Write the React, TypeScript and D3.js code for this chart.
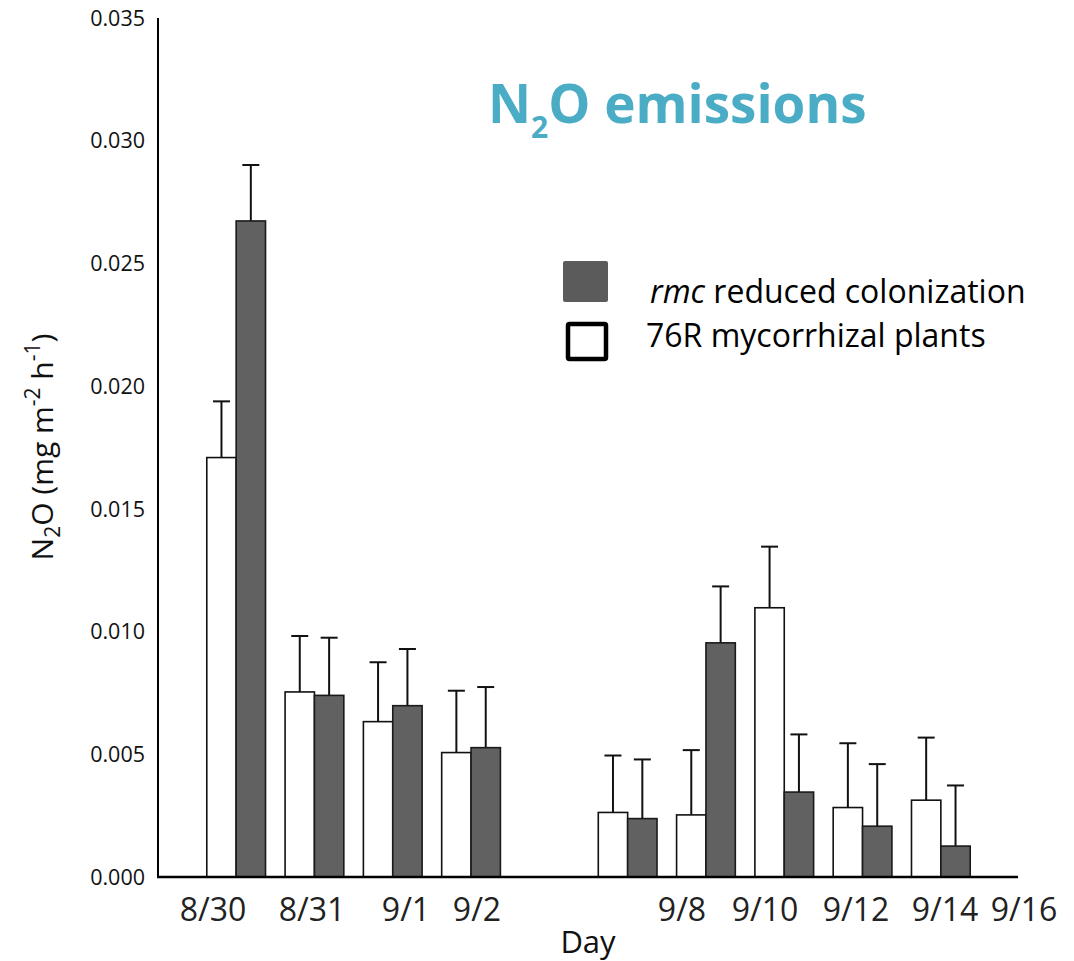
import * as d3 from "d3";
import { useEffect, useRef } from "react";

// sampling days (one bar pair per day); a blank slot sits between 9/2 and 9/8
const days = ["8/30", "8/31", "9/1", "9/2", "9/8", "9/10", "9/12", "9/14", "9/16"];
const slots = ["8/30", "8/31", "9/1", "9/2", "gap", "9/8", "9/10", "9/12", "9/14", "9/16"];

// 76R mycorrhizal plants (white)
const myc = [0.01709, 0.00754, 0.00633, 0.00507, 0.00263, 0.00253, 0.01097, 0.00283, 0.00313];
const mycErr = [0.00229, 0.00228, 0.00242, 0.00252, 0.00232, 0.00264, 0.00249, 0.00262, 0.00255];

// rmc reduced colonization (grey)
const rmc = [0.02673, 0.0074, 0.00698, 0.00527, 0.00238, 0.00954, 0.00346, 0.00207, 0.00126];
const rmcErr = [0.00228, 0.00235, 0.00231, 0.00247, 0.00241, 0.0023, 0.00235, 0.00253, 0.00247];

const yTicks = [0, 0.005, 0.01, 0.015, 0.02, 0.025, 0.03, 0.035];

const FONT = "'Open Sans', 'DejaVu Sans', sans-serif";

export default function N2OEmissionsChart() {
  const ref = useRef<SVGSVGElement>(null);

  useEffect(() => {
    if (!ref.current) return;
    const el = ref.current;
    d3.select(el).selectAll("*").remove();
    const svg = d3.select(el);

    const W = 1074;
    const H = 961;
    const axisX = 158;
    const axisRight = 1018;

    const y = d3.scaleLinear().domain([0, 0.035]).range([877, 18]);
    const x = d3.scaleBand().domain(slots).range([197, 980]).paddingInner(0.25).paddingOuter(0.125);
    const xs = d3.scaleBand().domain(["myc", "rmc"]).range([0, x.bandwidth()]);

    svg.attr("viewBox", `0 0 ${W} ${H}`);

    // y tick labels (no tick marks in the original)
    svg
      .append("g")
      .selectAll("text")
      .data(yTicks)
      .join("text")
      .attr("x", 145)
      .attr("y", d => y(d))
      .attr("dy", "0.36em")
      .attr("text-anchor", "end")
      .attr("font-family", FONT)
      .attr("font-size", 21.5)
      .attr("fill", "#111")
      .text(d => d3.format(".3f")(d));

    // bars
    const rows = days.map((d, i) => ({ day: d, myc: myc[i], mycErr: mycErr[i], rmc: rmc[i], rmcErr: rmcErr[i] }));
    const groups = svg
      .append("g")
      .selectAll("g")
      .data(rows)
      .join("g")
      .attr("transform", d => `translate(${x(d.day)},0)`);

    const series = [
      { key: "myc", fill: "#ffffff", stroke: "#111" },
      { key: "rmc", fill: "#616161", stroke: "#1a1a1a" },
    ];

    series.forEach(s => {
      const val = (d: any) => d[s.key] as number;
      const err = (d: any) => d[s.key + "Err"] as number;
      const cx = (xs(s.key) as number) + xs.bandwidth() / 2;

      groups
        .append("line")
        .attr("x1", cx)
        .attr("x2", cx)
        .attr("y1", d => y(val(d)))
        .attr("y2", d => y(val(d) + err(d)))
        .attr("stroke", "#111")
        .attr("stroke-width", 2);
      groups
        .append("line")
        .attr("x1", cx - 8.5)
        .attr("x2", cx + 8.5)
        .attr("y1", d => y(val(d) + err(d)))
        .attr("y2", d => y(val(d) + err(d)))
        .attr("stroke", "#111")
        .attr("stroke-width", 2);

      groups
        .append("rect")
        .attr("x", xs(s.key) as number)
        .attr("width", xs.bandwidth())
        .attr("y", d => y(val(d)))
        .attr("height", d => y(0) - y(val(d)))
        .attr("fill", s.fill)
        .attr("stroke", s.stroke)
        .attr("stroke-width", 1.6);
    });

    // axes lines
    svg.append("line").attr("x1", axisX).attr("x2", axisX).attr("y1", y(0.035)).attr("y2", y(0)).attr("stroke", "#000").attr("stroke-width", 2);
    svg.append("line").attr("x1", axisX - 1).attr("x2", axisRight).attr("y1", y(0)).attr("y2", y(0)).attr("stroke", "#000").attr("stroke-width", 2.5);

    // day labels, placed where the original slide put them
    const labelX = [213, 312, 406, 477, 682, 765, 856, 945, 1024];
    svg
      .append("g")
      .selectAll("text")
      .data(days)
      .join("text")
      .attr("x", (_, i) => labelX[i])
      .attr("y", 921)
      .attr("text-anchor", "middle")
      .attr("font-family", FONT)
      .attr("font-size", 32)
      .attr("fill", "#222")
      .text(d => d);

    svg
      .append("text")
      .attr("x", 588)
      .attr("y", 953)
      .attr("text-anchor", "middle")
      .attr("font-family", FONT)
      .attr("font-size", 31)
      .attr("fill", "#111")
      .text("Day");

    // y axis title
    const yt = svg
      .append("text")
      .attr("transform", "translate(53,447) rotate(-90)")
      .attr("text-anchor", "middle")
      .attr("font-family", FONT)
      .attr("font-size", 30)
      .attr("fill", "#111");
    yt.append("tspan").text("N");
    yt.append("tspan").attr("font-size", 21).attr("dy", 7).text("2");
    yt.append("tspan").attr("dy", -7).text("O (mg m");
    yt.append("tspan").attr("font-size", 21).attr("dy", -13).text("-2");
    yt.append("tspan").attr("dy", 13).text(" h");
    yt.append("tspan").attr("font-size", 21).attr("dy", -13).text("-1");
    yt.append("tspan").attr("dy", 13).text(")");

    // title
    const title = svg
      .append("text")
      .attr("x", 488)
      .attr("y", 123)
      .attr("font-family", FONT)
      .attr("font-weight", 700)
      .attr("font-size", 53)
      .attr("fill", "#4bacc6");
    title.append("tspan").text("N");
    title.append("tspan").attr("font-size", 30).attr("dy", 15).text("2");
    title.append("tspan").attr("dy", -15).text("O emissions");

    // legend
    svg.append("rect").attr("x", 563).attr("y", 261).attr("width", 45).attr("height", 41).attr("rx", 2).attr("fill", "#5b5b5b");
    svg
      .append("rect")
      .attr("x", 568)
      .attr("y", 324)
      .attr("width", 38)
      .attr("height", 35)
      .attr("rx", 1.5)
      .attr("fill", "#fff")
      .attr("stroke", "#000")
      .attr("stroke-width", 4.5);

    const l1 = svg.append("text").attr("x", 650).attr("y", 303).attr("font-family", FONT).attr("font-size", 32).attr("fill", "#000");
    l1.append("tspan").attr("font-style", "italic").text("rmc");
    l1.append("tspan").text(" reduced colonization");

    svg.append("text").attr("x", 646).attr("y", 347).attr("font-family", FONT).attr("font-size", 32).attr("fill", "#000").text("76R mycorrhizal plants");
  }, []);

  return (
    <svg
      ref={ref}
      width={1074}
      height={961}
      style={{ position: "absolute", left: 0, top: 0, display: "block", background: "#fff" }}
    />
  );
}
